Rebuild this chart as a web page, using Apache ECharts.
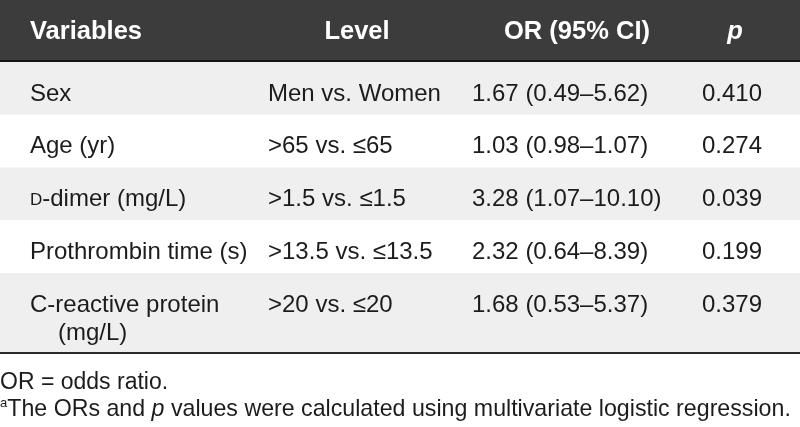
<!DOCTYPE html>
<html><head><meta charset="utf-8">
<script src="https://cdn.jsdelivr.net/npm/echarts@6/dist/echarts.min.js"></script>
<style>html,body{margin:0;padding:0;background:#fff}#c{width:800px;height:427px}</style>
</head><body><div id="c"></div>
<script>
// ---- table content ----
const headers = ['Variables', 'Level', 'OR (95% CI)', '{pi|p}'];
const variables = ['Sex', 'Age (yr)', '{sc|D}-dimer (mg/L)', 'Prothrombin time (s)', 'C-reactive protein\n(mg/L)'];
const levels = ['Men vs. Women', '>65 vs. ≤65', '>1.5 vs. ≤1.5', '>13.5 vs. ≤13.5', '>20 vs. ≤20'];
const orCI = ['1.67 (0.49–5.62)', '1.03 (0.98–1.07)', '3.28 (1.07–10.10)', '2.32 (0.64–8.39)', '1.68 (0.53–5.37)'];
const pValues = ['0.410', '0.274', '0.039', '0.199', '0.379'];
const footnotes = ['OR = odds ratio.', '{sup|a}The ORs and {it|p} values were calculated using multivariate logistic regression.'];

const FONT = '"Liberation Sans", Arial, Helvetica, sans-serif';
const FS = 24;
const HFS = 25.5;
const TEXT = '#1c1c1c';
const colLeft = [30, 268, 472, 702];
const headCenter = [null, 357, 577, 735];

const rowSpans = variables.map(v => v.split('\n').length > 1 ? 1.5 : 1);
const rowStart = [];
let acc = 0;
rowSpans.forEach(s => { rowStart.push(acc); acc += s; });
const HEAD_UNITS = 1.175;
const rows = variables.map((v, i) => [rowStart[i], rowStart[i] + rowSpans[i], i]);

const rich = {
  sc: { fontSize: 17, lineHeight: 20, padding: [1, 0, 0, 0], verticalAlign: 'middle', fontFamily: FONT, fill: TEXT },
  pi: { fontStyle: 'italic', fontWeight: 'bold', fontSize: HFS, fontFamily: FONT, fill: '#fff' }
};

function txt(text, x, y, align, opt) {
  return {
    type: 'text',
    style: Object.assign({
      text, x, y, align, verticalAlign: 'middle',
      fontSize: FS, fontFamily: FONT,
      fill: TEXT, lineHeight: 28, rich
    }, opt || {})
  };
}

function renderHead(params, api) {
  const a = api.coord([0, -HEAD_UNITS]);
  const b = api.coord([800, 0]);
  const yc = (a[1] + b[1]) / 2 + 1;
  const hopt = { fill: '#ffffff', fontWeight: 'bold', fontSize: HFS };
  const ch = [
    { type: 'rect', shape: { x: a[0], y: a[1], width: b[0] - a[0], height: b[1] - a[1] }, style: { fill: '#3c3c3c' } },
    { type: 'rect', shape: { x: a[0], y: b[1] - 2, width: b[0] - a[0], height: 2 }, style: { fill: '#141414' } },
    txt(headers[0], api.coord([colLeft[0], 0])[0], yc, 'left', hopt)
  ];
  for (let k = 1; k < headers.length; k++) {
    ch.push(txt(headers[k], api.coord([headCenter[k], 0])[0], yc, 'center', hopt));
  }
  return { type: 'group', children: ch };
}

function renderRow(params, api) {
  const i = api.value(2);
  const a = api.coord([0, api.value(0)]);
  const b = api.coord([800, api.value(1)]);
  const top = a[1];
  const ch = [
    { type: 'rect', shape: { x: a[0], y: top, width: b[0] - a[0], height: b[1] - top }, style: { fill: i % 2 === 0 ? '#efefef' : '#ffffff' } }
  ];
  if (i === variables.length - 1) {
    ch.push({ type: 'rect', shape: { x: a[0], y: b[1], width: b[0] - a[0], height: 2 }, style: { fill: '#2a2a2a' } });
  }
  const y0 = top + 32;
  variables[i].split('\n').forEach((ln, k) => {
    ch.push(txt(ln, api.coord([colLeft[0] + (k ? 28 : 0), 0])[0], y0 + k * 28, 'left'));
  });
  ch.push(txt(levels[i], api.coord([colLeft[1], 0])[0], y0, 'left'));
  ch.push(txt(orCI[i], api.coord([colLeft[2], 0])[0], y0, 'left'));
  ch.push(txt(pValues[i], api.coord([colLeft[3], 0])[0], y0, 'left'));
  return { type: 'group', children: ch };
}

const chart = echarts.init(document.getElementById('c'), null, { renderer: 'canvas' });
chart.setOption({
  animation: false,
  backgroundColor: '#ffffff',
  grid: { left: 0, right: 0, top: 0, height: 352 },
  xAxis: { type: 'value', min: 0, max: 800, show: false },
  yAxis: { type: 'value', min: -HEAD_UNITS, max: acc, inverse: true, show: false },
  series: [
    { type: 'custom', renderItem: renderHead, data: [[0]], silent: true, clip: false },
    { type: 'custom', renderItem: renderRow, data: rows, silent: true, clip: false,
      encode: { y: [0, 1] } }
  ],
  graphic: [
    { type: 'text', left: 0, top: 371, style: { text: footnotes[0], fontSize: 23, fontFamily: FONT, fill: TEXT } },
    { type: 'text', left: 0, top: 397, style: { text: footnotes[1], fontSize: 23.2, fontFamily: FONT, fill: TEXT,
      rich: { sup: { fontSize: 13, verticalAlign: 'top', fontFamily: FONT, fill: TEXT, lineHeight: 26 },
              it: { fontStyle: 'italic', fontSize: 23.2, fontFamily: FONT, fill: TEXT } } } }
  ]
});
</script></body></html>
